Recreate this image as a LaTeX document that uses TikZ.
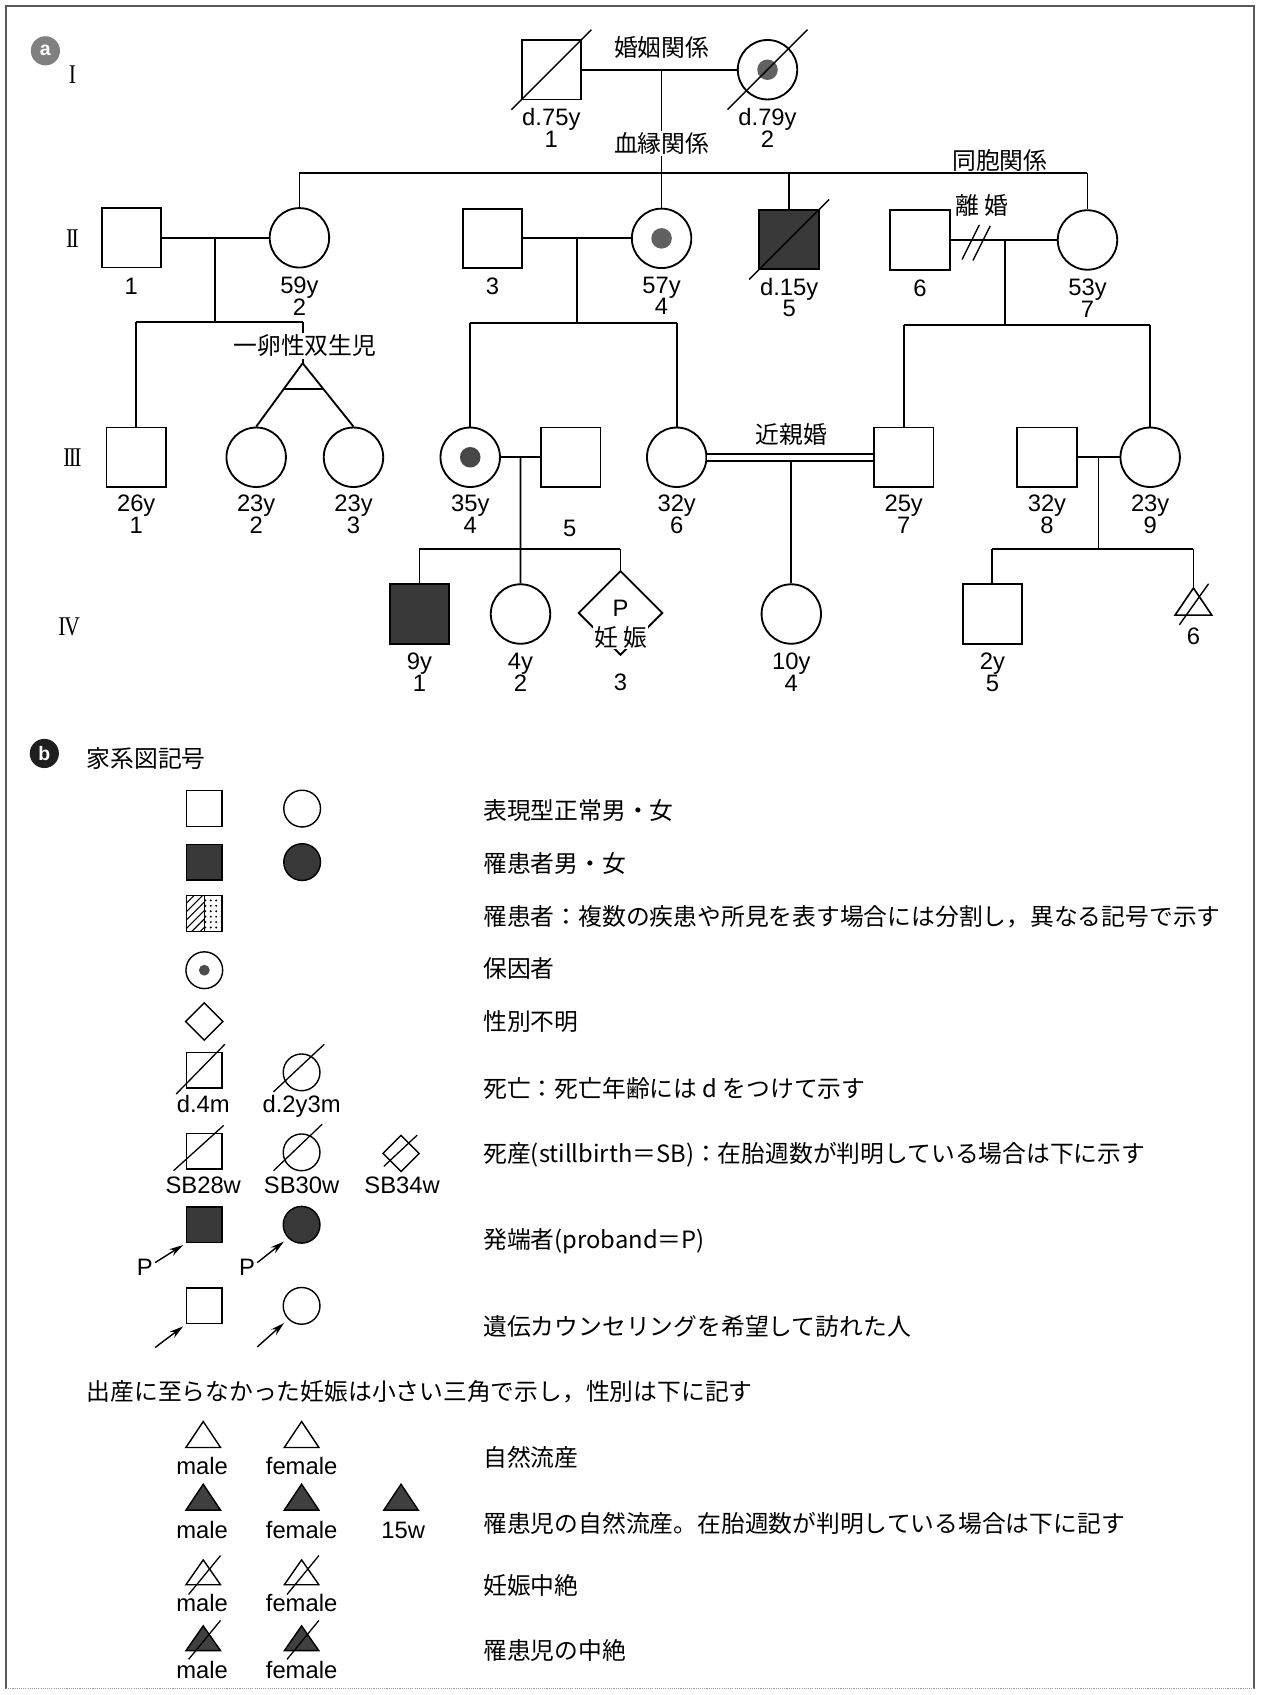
\documentclass[tikz,border=0pt]{standalone}
\usepackage{fontspec}
\setmainfont{Liberation Sans}
\newfontfamily\jpfont{Noto Sans CJK JP}
\newfontfamily\labfont{Liberation Sans}
\newfontfamily\romfont[FakeStretch=0.8]{Liberation Serif}
\usetikzlibrary{shapes.geometric,arrows.meta,calc,patterns.meta}
\newcommand\pedl{\labfont\fontsize{22}{20}\selectfont\lineskiplimit=-20pt\relax}
\newcommand\jpl{\jpfont\fontsize{22}{26}\selectfont}
\newcommand\roml{\romfont\fontsize{25}{26}\selectfont}
\begin{document}
\begin{tikzpicture}[x=1pt,y=-1pt,
  ln/.style={line width=1.7pt},
  pm/.style={draw, rectangle, minimum size=55pt, inner sep=0pt, line width=1.7pt},
  pf/.style={draw, circle, minimum size=55pt, inner sep=0pt, line width=1.7pt},
  aff/.style={fill=black!78},
  dotc/.style={circle, fill=black!62, minimum size=19pt, inner sep=0pt},
  dslash/.style={line width=1.3pt},
  plab/.style={font=\pedl, align=center, inner sep=0pt, anchor=north},
  jlab/.style={font=\jpl, inner sep=1.5pt, fill=white},
  rom/.style={font=\roml, inner sep=0pt},
  badge/.style={circle, minimum size=27pt, inner sep=0pt, text=white, font=\labfont\bfseries\fontsize{18}{18}\selectfont},
  lm/.style={draw, rectangle, minimum size=33pt, inner sep=0pt, line width=1.3pt},
  lf/.style={draw, circle, minimum size=34pt, inner sep=0pt, line width=1.3pt},
  ld/.style={draw, diamond, minimum size=35pt, inner sep=0pt, line width=1.3pt},
  lslash/.style={line width=1.2pt},
  ltext/.style={font=\jpl, anchor=west, inner sep=0pt},
  ll/.style={font=\pedl, anchor=base, inner sep=0pt},
  larr/.style={line width=1.3pt, -{Stealth[length=13pt,width=7pt]}},
  ltri/.style={line width=1.3pt, line join=miter},
  frame/.style={line width=1.3pt, black!65},
]
\useasboundingbox (0,0) rectangle (1167,1568);
% frame
\draw[frame] (5.5,1562) -- (5.5,5.5) -- (1160,5.5) -- (1160,1562);
\draw[line width=1pt, black!40, densely dotted] (5.5,1562) -- (1160,1562);

% badges
\node[badge, fill=black!50] (bada) at (42,47) {a};
\node[badge, fill=black!88] (badb) at (41,697) {b};

% generation numerals
\node[rom] (g1) at (67,69) {I};
\node[rom] (g2) at (67,221) {I\kern-1.6pt I};
\node[rom] (g3) at (67,423) {I\kern-1.6pt I\kern-1.6pt I};
\node[rom] (g4) at (64,580) {I\kern-1.2pt V};

% ===== persons =====
% Generation I
\node[pm] (i1) at (510,64.5) {};
\node[pf] (i2) at (710,64.5) {};
\node[dotc] (i2d) at (i2.center) {};
% Generation II
\node[pm] (ii1) at (121.5,220) {};
\node[pf] (ii2) at (277,220) {};
\node[pm] (ii3) at (455.5,220.5) {};
\node[pf] (ii4) at (612,220.5) {};
\node[dotc] (ii4d) at (ii4.center) {};
\node[pm,aff] (ii5) at (730,221.5) {};
\node[pm] (ii6) at (851,222) {};
\node[pf] (ii7) at (1006,222) {};
% Generation III
\node[pm] (iii1) at (126,423) {};
\node[pf] (iii2) at (237,423) {};
\node[pf] (iii3) at (327,423) {};
\node[pf] (iii4) at (435,423) {};
\node[dotc, fill=black!72] (iii4d) at (iii4.center) {};
\node[pm] (iii5) at (528,423) {};
\node[pf] (iii6) at (626,423) {};
\node[pm] (iii7) at (836,423) {};
\node[pm] (iii8) at (968.5,423) {};
\node[pf] (iii9) at (1064,423) {};
% Generation IV
\node[pm,aff] (iv1) at (388,568) {};
\node[pf] (iv2) at (481.5,568) {};
\node[draw, diamond, minimum size=78pt, inner sep=0pt, line width=1.7pt] (iv3) at (574,567) {};
\node[pf] (iv4) at (732,568) {};
\node[pm] (iv5) at (918,568) {};
\coordinate (iv6) at (1104,544);
\draw[ltri, line width=1.5pt] (iv6) -- (1121,569) -- (1087,569) -- cycle;

% deceased slashes
\draw[dslash] ($(i1)+(-37,37)$) -- ($(i1)+(37,-37)$);
\draw[dslash] ($(i2)+(-37,37)$) -- ($(i2)+(37,-37)$);
\draw[dslash] ($(ii5)+(-37,37)$) -- ($(ii5)+(37,-37)$);
\draw[dslash] (1091,578) -- (1118,540);

% ===== connectors =====
\draw[ln] (i1.east) -- (i2.west);
\coordinate (m1) at (612,64.5);
\coordinate (s2l) at (277,160);
\coordinate (s2m) at (612,160);
\coordinate (s2r) at (1006,160);
\draw[ln] (m1) -- (ii4.north);
\draw[ln] (s2l) -- (s2r);
\draw[ln] (s2l) -- (ii2.north);
\draw[ln] (730,160) -- (ii5.north);
\draw[ln] (s2r) -- (ii7.north);

% II-1 x II-2
\draw[ln] (ii1.east) -- (ii2.west);
\coordinate (d2a) at ($(ii1.east)!0.5!(ii2.west)$);
\coordinate (s3al) at (126,298);
\coordinate (s3ar) at (280,298);
\draw[ln] (d2a) -- (d2a |- s3al);
\draw[ln] (s3al) -- (s3ar);
\draw[ln] (s3al) -- (iii1.north);
\coordinate (tw) at (280,336);
\draw[ln] (s3ar) -- (tw);
\draw[ln] (tw) -- (iii2.north);
\draw[ln] (tw) -- (iii3.north);
\draw[ln] ($(tw)!0.41!(iii2.north)$) -- ($(tw)!0.41!(iii3.north)$);

% II-3 x II-4
\draw[ln] (ii3.east) -- (ii4.west);
\coordinate (d2b) at ($(ii3.east)!0.5!(ii4.west)$);
\coordinate (s3bl) at (435,299);
\coordinate (s3br) at (626,299);
\draw[ln] (d2b) -- (d2b |- s3bl);
\draw[ln] (s3bl) -- (s3br);
\draw[ln] (s3bl) -- (iii4.north);
\draw[ln] (s3br) -- (iii6.north);

% II-6 x II-7 (divorced)
\draw[ln] (ii6.east) -- (ii7.west);
\draw[dslash] (890,240) -- (906,208);
\draw[dslash] (900,241) -- (916,209);
\coordinate (d2c) at (930,222);
\coordinate (s3cl) at (836,301);
\coordinate (s3cr) at (1064,301);
\draw[ln] (d2c) -- (d2c |- s3cl);
\draw[ln] (s3cl) -- (s3cr);
\draw[ln] (s3cl) -- (iii7.north);
\draw[ln] (s3cr) -- (iii9.north);

% III-4 x III-5
\draw[ln] (iii4.east) -- (iii5.west);
\coordinate (d3a) at ($(iii4.east)!0.5!(iii5.west)$);
\coordinate (s4al) at (388,508);
\coordinate (s4ar) at (574,508);
\draw[ln] (d3a) -- (iv2.north);
\draw[ln] (s4al) -- (s4ar);
\draw[ln] (s4al) -- (iv1.north);
\draw[ln] (s4ar) -- (iv3.north);

% III-6 = III-7 (consanguineous)
\draw[line width=1.5pt, double, double distance=5pt] (iii6.east) -- (iii7.west);
\coordinate (d3b) at (732,425.5);
\draw[ln] (d3b) -- (iv4.north);

% III-8 x III-9
\draw[ln] (iii8.east) -- (iii9.west);
\coordinate (d3c) at ($(iii8.east)!0.5!(iii9.west)$);
\coordinate (s4cl) at (918,508);
\coordinate (s4cr) at (1104,508);
\draw[ln] (d3c) -- (d3c |- s4cl);
\draw[ln] (s4cl) -- (s4cr);
\draw[ln] (s4cl) -- (iv5.north);
\draw[ln] (s4cr) -- (iv6);

% ===== relation labels =====
\node[jlab, fill=none] (tkon) at (612,44) {婚姻関係};
\node[jlab] (tketsu) at (612,133) {血縁関係};
\node[jlab, fill=none] (tdoho) at (925,148) {同胞関係};
\node[jlab, fill=none] (trikon) at (908,190) {離 婚};
\node[jlab] (ttwin) at (282,320) {一卵性双生児};
\node[jlab, fill=none] (tkin) at (732,402) {近親婚};
\node[font=\pedl, inner sep=0pt] (iv3p) at (574,563) {P};
\node[jlab, inner sep=1pt] (iv3t) at (574,589.5) {妊 娠};

% ===== person labels =====
\node[plab] (li1) at (510,100) {d.75y\\1};
\node[plab] (li2) at (710,100) {d.79y\\2};
\node[plab] (lii1) at (121.5,257) {1};
\node[plab] (lii2) at (277,256) {59y\\2};
\node[plab] (lii3) at (455.5,257) {3};
\node[plab] (lii4) at (612,256) {57y\\4};
\node[plab] (lii5) at (730,257) {d.15y\\5};
\node[plab] (lii6) at (851,259) {6};
\node[plab] (lii7) at (1006,258) {53y\\7};
\node[plab] (liii1) at (126,458) {26y\\1};
\node[plab] (liii2) at (237,458) {23y\\2};
\node[plab] (liii3) at (327,458) {23y\\3};
\node[plab] (liii4) at (435,458) {35y\\4};
\node[plab] (liii5) at (527,481) {5};
\node[plab] (liii6) at (626,458) {32y\\6};
\node[plab] (liii7) at (836,458) {25y\\7};
\node[plab] (liii8) at (968.5,458) {32y\\8};
\node[plab] (liii9) at (1064,458) {23y\\9};
\node[plab] (liv1) at (388,604) {9y\\1};
\node[plab] (liv2) at (481.5,604) {4y\\2};
\node[plab] (liv3) at (574,623) {3};
\node[plab] (liv4) at (732,604) {10y\\4};
\node[plab] (liv5) at (918,604) {2y\\5};
\node[plab] (liv6) at (1104,581) {6};

% ===== legend (b) =====
\node[ltext] (thead) at (80,702) {家系図記号};

% row 1
\node[lm] (l1a) at (189,748) {};
\node[lf] (l1b) at (279.5,748) {};
\node[ltext] (t1) at (447,750) {表現型正常男・女};
% row 2
\node[lm, aff] (l2a) at (189,797.5) {};
\node[lf, aff] (l2b) at (279.5,797.5) {};
\node[ltext] (t2) at (447,799) {罹患者男・女};
% row 3
\fill[pattern={Lines[angle=45,distance=5.5pt,line width=1pt]}] (172.5,828.5) rectangle (189,861.5);
\fill[pattern={Dots[distance=5pt,radius=1pt]}] (189,828.5) rectangle (205.5,861.5);
\node[lm] (l3a) at (189,845) {};
\draw[line width=1.1pt] (l3a.north) -- (l3a.south);
\node[ltext] (t3) at (447,848) {罹患者：複数の疾患や所見を表す場合には分割し，異なる記号で示す};
% row 4
\node[lf] (l4a) at (189,897.5) {};
\node[circle, fill=black!70, minimum size=10pt, inner sep=0pt] (l4d) at (l4a.center) {};
\node[ltext] (t4) at (447,896) {保因者};
% row 5
\node[ld] (l5a) at (189,945) {};
\node[ltext] (t5) at (447,945) {性別不明};
% row 6
\node[lm] (l6a) at (189,990) {};
\node[lf] (l6b) at (279,992) {};
\draw[lslash] ($(l6a)+(-26,22)$) -- ($(l6a)+(19,-24)$);
\draw[lslash] ($(l6b)+(-26,18)$) -- ($(l6b)+(21,-26)$);
\node[ll] (l6la) at (188,1029) {d.4m};
\node[ll] (l6lb) at (279,1029) {d.2y3m};
\node[ltext] (t6) at (447,1007) {死亡：死亡年齢には d をつけて示す};
% row 7
\node[lm] (l7a) at (189,1065) {};
\node[lf] (l7b) at (279,1066) {};
\node[ld, minimum size=34pt] (l7c) at (371,1067) {};
\draw[lslash] ($(l7a)+(-28.5,18)$) -- ($(l7a)+(18,-24)$);
\draw[lslash] ($(l7b)+(-26,17)$) -- ($(l7b)+(19,-26)$);
\draw[lslash] ($(l7c)+(-16,12)$) -- ($(l7c)+(15,-17)$);
\node[ll] (l7la) at (188,1104) {SB28w};
\node[ll] (l7lb) at (279,1104) {SB30w};
\node[ll] (l7lc) at (372,1104) {SB34w};
\node[ltext] (t7) at (447,1068) {死産(stillbirth＝SB)：在胎週数が判明している場合は下に示す};
% row 8
\node[lm, aff] (l8a) at (189,1133) {};
\node[lf, aff] (l8b) at (279,1133) {};
\coordinate (a8a) at (143.5,1168);
\coordinate (a8b) at (238,1168);
\draw[larr, shorten >=3pt] (a8a) -- (l8a.south west);
\draw[larr, shorten >=5pt] (a8b) -- (l8b.225);
\node[font=\pedl, inner sep=0pt] (p8a) at (134,1172) {P};
\node[font=\pedl, inner sep=0pt] (p8b) at (228.5,1172) {P};
\node[ltext] (t8) at (447,1148) {発端者(proband＝P)};
% row 9
\node[lm] (l9a) at (189,1208) {};
\node[lf] (l9b) at (279,1208) {};
\coordinate (a9a) at (143.5,1246.5);
\coordinate (a9b) at (238,1246);
\draw[larr, shorten >=3pt] (a9a) -- (l9a.south west);
\draw[larr, shorten >=5pt] (a9b) -- (l9b.225);
\node[ltext] (t9) at (447,1227) {遺伝カウンセリングを希望して訪れた人};
% note
\node[ltext] (tnote) at (80,1287) {出産に至らなかった妊娠は小さい三角で示し，性別は下に記す};
% row 10
\draw[ltri] (188,1315) -- (204,1339) -- (172,1339) -- cycle;
\draw[ltri] (279,1315) -- (295,1339) -- (263,1339) -- cycle;
\node[ll] (l10a) at (187,1364) {male};
\node[ll] (l10b) at (279,1364) {female};
\node[ltext] (t10) at (447,1348) {自然流産};
% row 11
\draw[ltri, fill=black!75] (188,1373) -- (204,1397) -- (172,1397) -- cycle;
\draw[ltri, fill=black!75] (279,1373) -- (295,1397) -- (263,1397) -- cycle;
\draw[ltri, fill=black!75] (371,1373) -- (387,1397) -- (355,1397) -- cycle;
\node[ll] (l11a) at (187,1423) {male};
\node[ll] (l11b) at (279,1423) {female};
\node[ll] (l11c) at (373,1423) {15w};
\node[ltext] (t11) at (447,1409) {罹患児の自然流産。在胎週数が判明している場合は下に記す};
% row 12
\draw[ltri] (188,1443) -- (204,1466) -- (172,1466) -- cycle;
\draw[ltri] (279,1443) -- (295,1466) -- (263,1466) -- cycle;
\draw[lslash] (174.5,1475) -- (204,1439);
\draw[lslash] (265.5,1475) -- (295,1439);
\node[ll] (l12a) at (187,1491) {male};
\node[ll] (l12b) at (279,1491) {female};
\node[ltext] (t12) at (447,1467) {妊娠中絶};
% row 13
\draw[ltri, fill=black!75] (188,1504) -- (204,1527) -- (172,1527) -- cycle;
\draw[ltri, fill=black!75] (279,1504) -- (295,1527) -- (263,1527) -- cycle;
\draw[lslash] (174.5,1535) -- (204,1499);
\draw[lslash] (265.5,1535) -- (295,1499);
\node[ll] (l13a) at (187,1553) {male};
\node[ll] (l13b) at (279,1553) {female};
\node[ltext] (t13) at (447,1527) {罹患児の中絶};
\end{tikzpicture}
\end{document}
